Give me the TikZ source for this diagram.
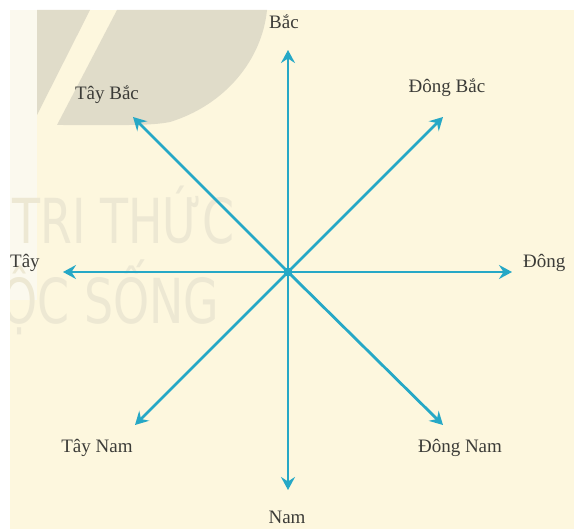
\documentclass[tikz,border=0pt]{standalone}
\usepackage{fontspec}
\setmainfont{Liberation Serif}
\newfontfamily\wmfont{DejaVu Sans}
\usetikzlibrary{arrows.meta}
\definecolor{bgcream}{HTML}{FDF7DE}
\definecolor{leafgray}{HTML}{E0DCC9}
\definecolor{stripwhite}{HTML}{FBF9EE}
\definecolor{wmgray}{HTML}{EDE8D3}
\definecolor{arrowblue}{HTML}{26A8C6}
\definecolor{labelgray}{HTML}{3C3C38}
\begin{document}
\begin{tikzpicture}[x=1pt,y=-1pt,
  dirarrow/.style={draw=arrowblue, line width=2.8pt, -{Stealth[length=13pt,width=14pt,inset=4.5pt]}},
  lbl/.style={text=labelgray, font=\fontsize{19}{21}\selectfont, inner sep=0pt},
  wm/.style={text=wmgray, font=\wmfont\fontsize{62}{62}\selectfont, inner sep=0pt, xscale=0.74,
    text height=50pt, text depth=0pt, anchor=base west}]
\useasboundingbox (0,0) rectangle (574,529);
\fill[white] (0,0) rectangle (574,529);
\fill[bgcream] (10,10) rectangle (574,529);
% decorative background
\fill[stripwhite] (10,10) rectangle (37,300);
\fill[leafgray] (37,10) -- (90,10) -- (37,115) -- cycle;
\fill[leafgray] (117,10) -- (267,10) .. controls (262,60) and (225,105) .. (170,122)
   .. controls (150,126) and (120,125) .. (57,125) -- cycle;
% watermark
\begin{scope}
\clip (10,10) rectangle (574,529);
\node[wm] (wm1) at (12,244) {TRI THỨC};
\node[wm] (wm2) at (-64,324) {CUỘC SỐNG};
\end{scope}
% rose
\coordinate (O) at (288,272);
\coordinate (N) at (288,50);
\coordinate (S) at (288,490);
\coordinate (W) at (63,272);
\coordinate (E) at (512,272);
\coordinate (NE) at (443,117);
\coordinate (NW) at (133,117);
\coordinate (SW) at (135,425);
\coordinate (SE) at (443,425);
\foreach \t in {N,S,W,E,NE,NW,SW,SE} \draw[dirarrow] (O) -- (\t);
\fill[arrowblue] (O) circle (4.5pt);
% labels
\node[lbl] (lN) at (284,22) {Bắc};
\node[lbl] (lNW) at (107,95) {Tây Bắc};
\node[lbl] (lNE) at (447,88) {Đông Bắc};
\node[lbl, anchor=west] (lW) at (10,263) {Tây};
\node[lbl, anchor=west] (lE) at (523,263) {Đông};
\node[lbl] (lSW) at (97,448) {Tây Nam};
\node[lbl] (lSE) at (460,448) {Đông Nam};
\node[lbl] (lS) at (287,517) {Nam};
\end{tikzpicture}
\end{document}
